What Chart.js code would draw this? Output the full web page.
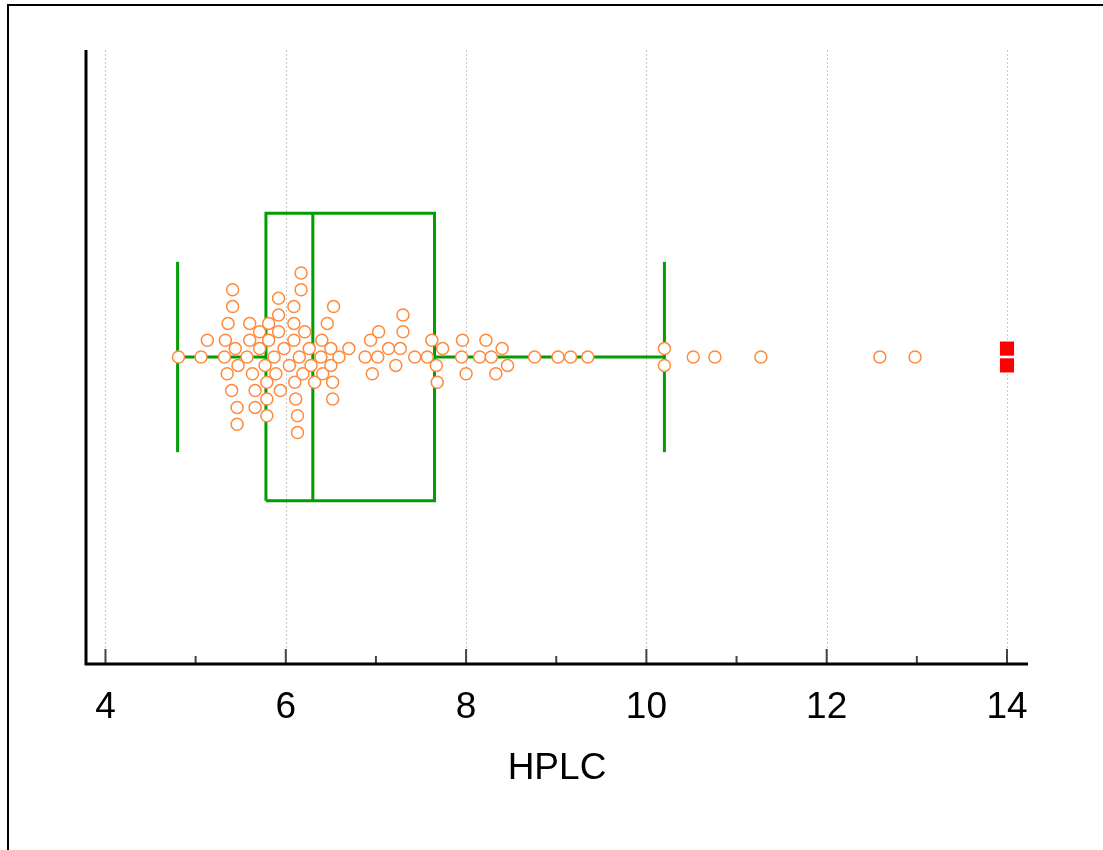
<!DOCTYPE html>
<html>
<head>
<meta charset="utf-8">
<title>HPLC box plot</title>
<script src="https://cdn.jsdelivr.net/npm/chart.js@4.4.1/dist/chart.umd.min.js"></script>
<style>
  html, body { margin: 0; padding: 0; background: #fff; }
  #wrap { position: relative; width: 1103px; height: 850px; }
</style>
</head>
<body>
<div id="wrap"><canvas id="chart" width="1103" height="850"></canvas></div>
<script>
const hplc = [
  4.81, 5.06, 5.13, 5.32, 5.33, 5.35, 5.36, 5.40, 5.41, 5.41, 5.44, 5.46, 5.46, 5.47,
  5.57, 5.60, 5.60, 5.63, 5.66, 5.66, 5.71, 5.71, 5.77, 5.79, 5.79, 5.79, 5.81, 5.81,
  5.87, 5.89, 5.92, 5.92, 5.92, 5.94, 5.98, 6.04, 6.09, 6.09, 6.09, 6.10, 6.11, 6.13,
  6.13, 6.15, 6.17, 6.17, 6.19, 6.21, 6.26, 6.28, 6.32, 6.39, 6.40, 6.41, 6.46, 6.50,
  6.50, 6.52, 6.52, 6.53, 6.59, 6.70, 6.88, 6.94, 6.96, 7.02, 7.03, 7.14, 7.22, 7.27,
  7.30, 7.30, 7.43, 7.57, 7.62, 7.67, 7.68, 7.74, 7.95, 7.96, 8.00, 8.15, 8.22, 8.28,
  8.33, 8.40, 8.46, 8.76, 9.02, 9.16, 9.35, 10.20, 10.20, 10.52, 10.76, 11.27, 12.59, 12.98
];
const farOut = [14.0, 14.0];
// low whisker, Q1, median, Q3, high whisker
const boxStats = [4.80, 5.78, 6.30, 7.65, 10.20];
const xTicks = [4, 6, 8, 10, 12, 14];
const minorTicks = [5, 7, 9, 11, 13];
const axisTitle = "HPLC";

const green = "#009e00";
const orange = "#ff8a3d";
const BOX_H = 0.468;
const CAP_H = 0.31;

const [lo, q1, med, q3, hi] = boxStats;

function seg(points) {
  return {
    data: points,
    showLine: true,
    borderColor: green,
    borderWidth: 3,
    borderJoinStyle: "miter",
    borderCapStyle: "butt",
    pointRadius: 0,
    fill: false,
    order: 2
  };
}

// simple beeswarm: place each value (or group of equal values) nearest the centre line without overlap
function swarm(values, xScale) {
  const lane = 8.4, minD = 11.2;
  const placed = [];
  const items = values.map((v, i) => ({ v, i })).sort((a, b) => a.v - b.v);
  const offs = new Array(values.length).fill(0);
  let j = 0;
  while (j < items.length) {
    let k = j;
    while (k + 1 < items.length && items[k + 1].v === items[j].v) k++;
    const group = items.slice(j, k + 1);
    const n = group.length;
    const px = xScale.getPixelForValue(items[j].v);
    for (let step = 0; step < 80; step++) {
      const b = step === 0 ? 0 : (step % 2 ? -Math.ceil(step / 2) : step / 2);
      const ys = group.map((_, g) => (b + (g - (n - 1) / 2) * 2) * lane);
      const ok = ys.every(y => placed.every(p => Math.hypot(p.x - px, p.y - y) >= minD));
      if (ok) {
        group.forEach((it, g) => {
          offs[it.i] = ys[g];
          placed.push({ x: px, y: ys[g] });
        });
        break;
      }
    }
    j = k + 1;
  }
  return offs;
}

const decorations = {
  id: "decorations",
  beforeDatasetsDraw(chart) {
    const { ctx, chartArea: a, scales: { x } } = chart;
    ctx.save();
    // frame (top + left only)
    ctx.fillStyle = "#000";
    ctx.fillRect(7, 4, 1096, 2);
    ctx.fillRect(7, 4, 2, 846);
    // dotted grid lines
    ctx.strokeStyle = "#c8c8c8";
    ctx.lineWidth = 1;
    ctx.setLineDash([2, 2]);
    xTicks.forEach(v => {
      const px = Math.round(x.getPixelForValue(v)) + 0.5;
      ctx.beginPath();
      ctx.moveTo(px, a.top);
      ctx.lineTo(px, a.bottom);
      ctx.stroke();
    });
    ctx.setLineDash([]);
    // tick marks pointing inward
    ctx.strokeStyle = "#444";
    ctx.lineWidth = 2;
    xTicks.forEach(v => {
      const px = x.getPixelForValue(v);
      ctx.beginPath();
      ctx.moveTo(px, a.bottom - 15);
      ctx.lineTo(px, a.bottom);
      ctx.stroke();
    });
    minorTicks.forEach(v => {
      const px = x.getPixelForValue(v);
      ctx.beginPath();
      ctx.moveTo(px, a.bottom - 8);
      ctx.lineTo(px, a.bottom);
      ctx.stroke();
    });
    // axis lines
    ctx.strokeStyle = "#000";
    ctx.lineWidth = 3;
    ctx.beginPath();
    ctx.moveTo(a.left, a.top);
    ctx.lineTo(a.left, a.bottom);
    ctx.lineTo(a.right, a.bottom);
    ctx.stroke();
    ctx.restore();
  }
};

const chart = new Chart(document.getElementById("chart"), {
  type: "scatter",
  data: {
    datasets: [
      {
        label: axisTitle,
        data: hplc.map(v => ({ x: v, y: 0 })),
        pointRadius: 6,
        pointBorderWidth: 1.5,
        borderColor: orange,
        backgroundColor: "#fff",
        order: 0
      },
      {
        label: "far out",
        data: farOut.map(v => ({ x: v, y: 0 })),
        pointStyle: "rect",
        pointRadius: 10,
        pointBorderWidth: 0,
        borderColor: "#ff0000",
        backgroundColor: "#ff0000",
        order: 1
      },
      seg([{ x: q1, y: -BOX_H }, { x: q3, y: -BOX_H }, { x: q3, y: BOX_H }, { x: q1, y: BOX_H }, { x: q1, y: -BOX_H }]),
      seg([{ x: med, y: -BOX_H }, { x: med, y: BOX_H }]),
      seg([{ x: lo, y: 0 }, { x: q1, y: 0 }]),
      seg([{ x: q3, y: 0 }, { x: hi, y: 0 }]),
      seg([{ x: lo, y: -CAP_H }, { x: lo, y: CAP_H }]),
      seg([{ x: hi, y: -CAP_H }, { x: hi, y: CAP_H }])
    ]
  },
  options: {
    responsive: false,
    animation: false,
    layout: { padding: { left: 86, top: 50, right: 75, bottom: 0 } },
    plugins: { legend: { display: false }, tooltip: { enabled: false } },
    scales: {
      x: {
        type: "linear",
        min: 3.784,
        max: 14.233,
        afterFit: s => { s.height = 186; },
        grid: { display: false, drawTicks: false },
        border: { display: false },
        ticks: {
          stepSize: 2,
          includeBounds: false,
          color: "#000",
          padding: 22,
          maxRotation: 0,
          font: { family: "'Liberation Sans', Arial, sans-serif", size: 37 }
        },
        title: {
          display: true,
          text: axisTitle,
          color: "#000",
          padding: { top: 0, bottom: 59 },
          font: { family: "'Liberation Sans', Arial, sans-serif", size: 37 }
        }
      },
      y: {
        type: "linear",
        display: false,
        min: -1,
        max: 1
      }
    }
  },
  plugins: [decorations]
});

// lay the dots out as a swarm now that the x scale is known
const unit = chart.scales.y.getPixelForValue(0) - chart.scales.y.getPixelForValue(1);
const offs = swarm(hplc.concat(farOut), chart.scales.x);
chart.data.datasets[0].data = hplc.map((v, i) => ({ x: v, y: -offs[i] / unit }));
chart.data.datasets[1].data = farOut.map((v, i) => ({ x: v, y: -offs[hplc.length + i] / unit }));
chart.update("none");
</script>
</body>
</html>
